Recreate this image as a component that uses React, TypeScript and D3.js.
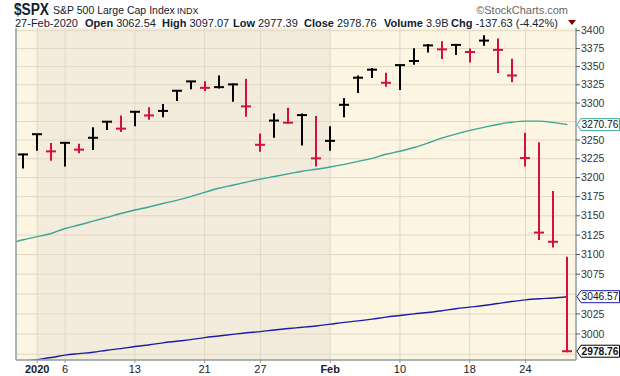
import React from "react";
import * as d3 from "d3";

// ---- Data (Dec 31 2019 .. Feb 27 2020, daily HLC) ----
const dates = [
  "2019-12-31", "2020-01-02", "2020-01-03", "2020-01-06", "2020-01-07", "2020-01-08", "2020-01-09", "2020-01-10",
  "2020-01-13", "2020-01-14", "2020-01-15", "2020-01-16", "2020-01-17", "2020-01-21", "2020-01-22", "2020-01-23",
  "2020-01-24", "2020-01-27", "2020-01-28", "2020-01-29", "2020-01-30", "2020-01-31", "2020-02-03", "2020-02-04",
  "2020-02-05", "2020-02-06", "2020-02-07", "2020-02-10", "2020-02-11", "2020-02-12", "2020-02-13", "2020-02-14",
  "2020-02-18", "2020-02-19", "2020-02-20", "2020-02-21", "2020-02-24", "2020-02-25", "2020-02-26", "2020-02-27",
];
const highs = [
  3231.72, 3258.14, 3246.15, 3246.84, 3244.91, 3267.07, 3275.58, 3282.99, 3288.13, 3294.25, 3298.66, 3317.11,
  3329.88, 3329.79, 3337.77, 3326.88, 3333.18, 3258.85, 3285.78, 3293.47, 3285.91, 3282.33, 3268.44, 3306.92,
  3337.58, 3347.96, 3341.42, 3352.26, 3375.63, 3381.47, 3385.09, 3380.69, 3375.01, 3393.52, 3389.15, 3360.76,
  3259.81, 3246.99, 3182.51, 3097.07,
];
const lows = [
  3212.03, 3235.53, 3222.34, 3214.64, 3232.43, 3236.67, 3263.67, 3260.86, 3268.43, 3277.19, 3280.69, 3302.82,
  3318.86, 3316.61, 3320.04, 3301.87, 3281.53, 3234.5, 3253.22, 3271.89, 3242.8, 3214.68, 3235.66, 3280.61,
  3313.75, 3334.39, 3322.12, 3317.77, 3352.72, 3369.72, 3360.52, 3366.15, 3355.61, 3378.83, 3341.02, 3328.45,
  3214.65, 3118.77, 3108.99, 2977.39,
];
const closes = [
  3230.78, 3257.85, 3234.85, 3246.28, 3237.18, 3253.05, 3274.7, 3265.35, 3288.13, 3283.15, 3289.29, 3316.81,
  3329.62, 3320.79, 3321.75, 3325.54, 3295.47, 3243.63, 3276.24, 3273.4, 3283.66, 3225.52, 3248.92, 3297.59,
  3334.69, 3345.78, 3327.71, 3352.09, 3357.75, 3379.45, 3373.94, 3380.16, 3370.29, 3386.15, 3373.23, 3337.75,
  3225.89, 3128.21, 3116.39, 2978.76,
];
const prevClose = 3221.29; // Dec 30 2019 close

// Moving averages, starting one session before the first bar (index -1)
const ma50 = [
  3114, 3119, 3123, 3127, 3133.5, 3138, 3143, 3148, 3153, 3157.5, 3161.5, 3166, 3170, 3175, 3180.5, 3186,
  3190, 3194, 3198, 3201.5, 3205, 3208.5, 3211, 3214, 3217.5, 3221.5, 3225.5, 3231, 3235, 3240, 3246,
  3252.5, 3258, 3263, 3267, 3271, 3274, 3275.5, 3275.5, 3273.5, 3270.76,
];
const ma200 = [
  2963, 2966, 2968.5, 2971, 2974, 2975.8, 2977.5, 2980, 2982, 2984.5, 2986.5, 2989, 2991, 2993, 2995.5,
  2997.5, 2999.5, 3001.5, 3003, 3005, 3006.8, 3008.3, 3010, 3012.2, 3014.5, 3016.3, 3018.5, 3021, 3023,
  3025, 3026.7, 3029, 3031.5, 3033.5, 3035.5, 3038, 3040.5, 3042.6, 3044, 3045, 3046.57,
];

const yTickValues = [2975, 3000, 3025, 3050, 3075, 3100, 3125, 3150, 3175, 3200, 3225, 3250, 3275, 3300, 3325, 3350, 3375, 3400];
const xTickIdx = [1, 3, 8, 13, 17, 22, 27, 32, 36];
const xTickLabels = ["2020", "6", "13", "21", "27", "Feb", "10", "18", "24"];
const xTickBold = [true, false, false, false, false, true, false, false, false];
const monthStartIdx = [1, 22]; // first session of Jan and Feb

const FONT = "'Liberation Sans', Arial, Helvetica, sans-serif";
const RED = "#d2123c";
const BLACK = "#000000";
const TEAL = "#3aa696";
const BLUE = "#1c1ca8";
const LIGHT_BG = "#fcf5e2";
const DARK_BG = "#f3ecdc";
const GRID = "#e0d8c4";
const FRAME = "#8e9ca0";
const TXT = "#14202c";

export default function App() {
  const W = 620, H = 376;
  const L = 16, R = 576, T = 28, B = 360;
  const x = d3.scaleLinear().domain([-0.52, 39.62]).range([L, R]);
  const y = d3.scaleLog().domain([2968, 3403.8]).range([B, T]);

  const maLine = d3
    .line<number>()
    .x((_, i) => x(i - 1))
    .y((d) => y(d))
    .curve(d3.curveMonotoneX);

  const tagPath = (cy: number, x0: number, x1: number, h: number) =>
    `M${x0},${cy} L${x0 + 4},${cy - h / 2} L${x1},${cy - h / 2} L${x1},${cy + h / 2} L${x0 + 4},${cy + h / 2} Z`;

  const tags = [
    { v: ma50[ma50.length - 1], color: TEAL, bold: false },
    { v: ma200[ma200.length - 1], color: BLUE, bold: false },
    { v: closes[closes.length - 1], color: "#000", bold: true },
  ];
  const tagYs = tags.map((t) => y(t.v));
  const visibleYTicks = yTickValues.filter((v) => tagYs.every((ty) => Math.abs(y(v) - ty) > 8));

  return (
    <div style={{ position: "absolute", left: 0, top: 0 }}>
      <svg width={W} height={H} style={{ display: "block", background: "#fff" }} fontFamily={FONT}>
        <defs>
          <clipPath id="plotClip">
            <rect x={L} y={T} width={R - L} height={B - T} />
          </clipPath>
        </defs>

        {/* Backgrounds */}
        <rect x={L} y={T} width={R - L} height={B - T} fill={LIGHT_BG} />
        <rect
          x={x(monthStartIdx[0])}
          y={T}
          width={x(monthStartIdx[1]) - x(monthStartIdx[0])}
          height={B - T}
          fill={DARK_BG}
        />

        {/* Grid */}
        {yTickValues.map((v) => (
          <line key={"gy" + v} x1={L} x2={R} y1={y(v)} y2={y(v)} stroke={GRID} strokeWidth={1} />
        ))}
        {xTickIdx.map((i) => (
          <line key={"gx" + i} x1={x(i)} x2={x(i)} y1={T} y2={B} stroke={GRID} strokeWidth={1} />
        ))}

        {/* Moving averages */}
        <g clipPath="url(#plotClip)">
          <path d={maLine(ma50) || ""} fill="none" stroke={TEAL} strokeWidth={1.4} />
          <path d={maLine(ma200) || ""} fill="none" stroke={BLUE} strokeWidth={1.4} />
        </g>

        {/* HLC bars */}
        {closes.map((c, i) => {
          const prev = i === 0 ? prevClose : closes[i - 1];
          const col = c < prev ? RED : BLACK;
          const cx = Math.round(x(i));
          const yc = y(c);
          return (
            <g key={dates[i]}>
              <line x1={cx} x2={cx} y1={y(highs[i])} y2={y(lows[i])} stroke={col} strokeWidth={2} />
              <line x1={cx - 5} x2={cx + 5} y1={yc} y2={yc} stroke={col} strokeWidth={2} />
            </g>
          );
        })}

        {/* Frame */}
        <line x1={L} x2={L} y1={T} y2={B} stroke={FRAME} strokeWidth={1.5} />
        <line x1={R} x2={R} y1={T} y2={B} stroke={FRAME} strokeWidth={1.5} />
        <line x1={L} x2={R} y1={B} y2={B} stroke={FRAME} strokeWidth={1.5} />

        {/* Y axis labels */}
        {visibleYTicks.map((v) => (
          <g key={"yl" + v}>
            <line x1={R} x2={R + 4} y1={y(v)} y2={y(v)} stroke="#555" strokeWidth={1} />
            <text x={R + 5} y={y(v)} dy="0.35em" fontSize={10.5} fill="#333">
              {v}
            </text>
          </g>
        ))}

        {/* X axis labels */}
        {xTickIdx.map((i, k) => (
          <g key={"xl" + i}>
            <line x1={x(i)} x2={x(i)} y1={B} y2={B + 3} stroke="#999" strokeWidth={1} />
            <text
              x={x(i)}
              y={B + 13}
              textAnchor="middle"
              fontSize={11}
              fontWeight={xTickBold[k] ? "bold" : "normal"}
              fill={TXT}
            >
              {xTickLabels[k]}
            </text>
          </g>
        ))}

        {/* Price tags */}
        {tags.map((t, k) => {
          const cy = tagYs[k];
          return (
            <g key={"tag" + k}>
              <path d={tagPath(cy, R + 1, 619.5, 12)} fill="#fff" stroke={t.color} strokeWidth={1} />
              <text
                x={R + 5.5}
                y={cy}
                dy="0.35em"
                fontSize={10}
                fontWeight={t.bold ? "bold" : "normal"}
                fill="#111"
                textLength={37}
                lengthAdjust="spacingAndGlyphs"
              >
                {t.v.toFixed(2)}
              </text>
            </g>
          );
        })}

        {/* Header */}
        <text x={14} y={14.5} fontSize={16} fontWeight="bold" fill={TXT} textLength={35} lengthAdjust="spacingAndGlyphs">
          $SPX
        </text>
        <text x={53} y={14} fontSize={10.5} fill={TXT}>
          S&amp;P 500 Large Cap Index
        </text>
        <text x={177} y={14} fontSize={9} fill={TXT}>
          INDX
        </text>
        <text x={568} y={14} fontSize={11} fill="#666" textAnchor="end">
          ©StockCharts.com
        </text>

        <text y={26.5} fontSize={11} fill={TXT}>
          <tspan x={15}>27-Feb-2020</tspan>
          <tspan x={85} fontWeight="bold">Open</tspan>
          <tspan dx={3}>3062.54</tspan>
          <tspan x={162} fontWeight="bold">High</tspan>
          <tspan dx={3}>3097.07</tspan>
          <tspan x={233} fontWeight="bold">Low</tspan>
          <tspan dx={3}>2977.39</tspan>
          <tspan x={304} fontWeight="bold">Close</tspan>
          <tspan dx={3}>2978.76</tspan>
          <tspan x={384} fontWeight="bold">Volume</tspan>
          <tspan dx={3}>3.9B</tspan>
          <tspan x={451} fontWeight="bold">Chg</tspan>
          <tspan dx={3}>-137.63 (-4.42%)</tspan>
        </text>
        <path d="M568,20 L576,20 L572,25 Z" fill="#8b0000" />
      </svg>
    </div>
  );
}
